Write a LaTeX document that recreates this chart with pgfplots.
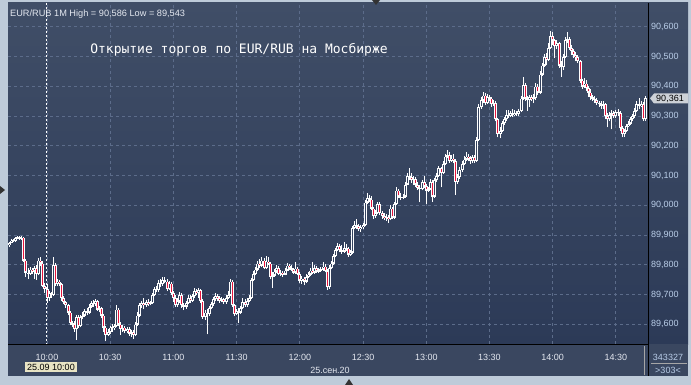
\documentclass[border=0pt]{standalone}
\usepackage{pgfplots}
\pgfplotsset{compat=1.18}
\usepackage{pgfplotstable}
\usepackage{fontspec}
\setmainfont{Liberation Sans}
\newfontfamily\monofont{DejaVu Sans Mono}
\definecolor{frame}{RGB}{190,203,217}
\definecolor{bgtop}{RGB}{64,78,103}
\definecolor{bgbot}{RGB}{44,58,87}
\definecolor{bpanel}{RGB}{58,71,96}
\definecolor{gridc}{RGB}{92,108,138}
\definecolor{ylab}{RGB}{185,205,232}
\definecolor{xlab}{RGB}{228,232,240}
\definecolor{candred}{RGB}{230,20,60}
\definecolor{hollow}{RGB}{52,66,94}
\definecolor{tagc}{RGB}{205,209,215}
\definecolor{datebox}{RGB}{232,228,196}

\pgfplotstableread{
m o h l c
-18 89.868 89.878 89.860 89.875
-17 89.875 89.886 89.872 89.882
-16 89.882 89.888 89.876 89.880
-15 89.880 89.894 89.878 89.890
-14 89.890 89.898 89.886 89.893
-13 89.893 89.897 89.884 89.888
-12 89.888 89.896 89.885 89.892
-11 89.892 89.895 89.810 89.815
-10 89.815 89.818 89.760 89.775
-9 89.775 89.790 89.752 89.770
-8 89.770 89.792 89.766 89.785
-7 89.785 89.790 89.770 89.778
-6 89.778 89.796 89.752 89.790
-5 89.790 89.800 89.750 89.770
-4 89.770 89.822 89.765 89.815
-3 89.815 89.825 89.795 89.805
-2 89.805 89.812 89.725 89.730
-1 89.730 89.738 89.705 89.720
0 89.720 89.735 89.672 89.690
1 89.690 89.712 89.680 89.705
2 89.705 89.710 89.690 89.700
3 89.700 89.826 89.695 89.800
4 89.800 89.805 89.728 89.735
5 89.735 89.752 89.728 89.745
6 89.745 89.750 89.728 89.735
7 89.735 89.740 89.680 89.690
8 89.690 89.695 89.668 89.675
9 89.675 89.680 89.655 89.665
10 89.665 89.670 89.630 89.640
11 89.640 89.645 89.598 89.605
12 89.605 89.612 89.590 89.600
13 89.600 89.610 89.575 89.585
14 89.585 89.630 89.548 89.625
15 89.625 89.630 89.588 89.595
16 89.595 89.632 89.590 89.625
17 89.625 89.640 89.618 89.630
18 89.630 89.650 89.625 89.645
19 89.645 89.655 89.632 89.640
20 89.640 89.668 89.636 89.660
21 89.660 89.680 89.655 89.672
22 89.672 89.683 89.660 89.668
23 89.668 89.685 89.662 89.678
24 89.678 89.682 89.645 89.650
25 89.650 89.662 89.640 89.655
26 89.655 89.660 89.620 89.630
27 89.630 89.635 89.575 89.590
28 89.590 89.595 89.543 89.565
29 89.565 89.585 89.560 89.575
30 89.575 89.595 89.568 89.590
31 89.590 89.600 89.575 89.588
32 89.588 89.602 89.580 89.595
33 89.595 89.665 89.590 89.650
34 89.650 89.655 89.595 89.600
35 89.600 89.608 89.565 89.585
36 89.585 89.598 89.575 89.590
37 89.590 89.595 89.570 89.578
38 89.578 89.592 89.570 89.585
39 89.585 89.590 89.562 89.570
40 89.570 89.582 89.558 89.575
41 89.575 89.580 89.552 89.565
42 89.565 89.608 89.560 89.600
43 89.600 89.640 89.595 89.630
44 89.630 89.672 89.625 89.665
45 89.665 89.680 89.655 89.672
46 89.672 89.690 89.650 89.665
47 89.665 89.682 89.660 89.675
48 89.675 89.684 89.662 89.668
49 89.668 89.680 89.664 89.672
50 89.672 89.705 89.668 89.700
51 89.700 89.725 89.695 89.720
52 89.720 89.728 89.708 89.715
53 89.715 89.748 89.710 89.740
54 89.740 89.752 89.725 89.735
55 89.735 89.758 89.730 89.750
56 89.750 89.760 89.738 89.745
57 89.745 89.752 89.712 89.720
58 89.720 89.745 89.715 89.738
59 89.738 89.742 89.698 89.705
60 89.705 89.712 89.675 89.690
61 89.690 89.698 89.658 89.665
62 89.665 89.688 89.660 89.680
63 89.680 89.708 89.672 89.700
64 89.700 89.705 89.655 89.665
65 89.665 89.672 89.648 89.660
66 89.660 89.680 89.652 89.672
67 89.672 89.698 89.668 89.690
68 89.690 89.700 89.672 89.680
69 89.680 89.702 89.676 89.695
70 89.695 89.722 89.690 89.712
71 89.712 89.720 89.698 89.705
72 89.705 89.722 89.690 89.715
73 89.715 89.720 89.672 89.680
74 89.680 89.686 89.618 89.625
75 89.625 89.648 89.615 89.640
76 89.640 89.650 89.566 89.635
77 89.635 89.662 89.628 89.655
78 89.655 89.675 89.650 89.668
79 89.668 89.692 89.662 89.685
80 89.685 89.705 89.680 89.695
81 89.695 89.702 89.680 89.688
82 89.688 89.695 89.672 89.680
83 89.680 89.692 89.675 89.685
84 89.685 89.690 89.668 89.675
85 89.675 89.698 89.670 89.690
86 89.690 89.712 89.685 89.700
87 89.700 89.752 89.695 89.745
88 89.745 89.750 89.660 89.665
89 89.665 89.670 89.628 89.635
90 89.635 89.652 89.630 89.645
91 89.645 89.655 89.605 89.640
92 89.640 89.662 89.635 89.655
93 89.655 89.690 89.650 89.675
94 89.675 89.685 89.660 89.665
95 89.665 89.690 89.660 89.680
96 89.680 89.698 89.675 89.690
97 89.690 89.755 89.685 89.750
98 89.750 89.778 89.745 89.770
99 89.770 89.792 89.765 89.785
100 89.785 89.812 89.780 89.805
101 89.805 89.818 89.790 89.798
102 89.798 89.825 89.792 89.815
103 89.815 89.822 89.785 89.790
104 89.790 89.830 89.786 89.812
105 89.812 89.825 89.798 89.805
106 89.805 89.810 89.752 89.760
107 89.760 89.775 89.722 89.765
108 89.765 89.785 89.760 89.778
109 89.778 89.798 89.772 89.790
110 89.790 89.795 89.765 89.770
111 89.770 89.782 89.762 89.775
112 89.775 89.780 89.760 89.768
113 89.768 89.790 89.765 89.782
114 89.782 89.805 89.778 89.798
115 89.798 89.802 89.782 89.790
116 89.790 89.798 89.778 89.785
117 89.785 89.790 89.770 89.775
118 89.775 89.810 89.770 89.788
119 89.788 89.792 89.765 89.770
120 89.770 89.775 89.740 89.748
121 89.748 89.762 89.735 89.755
122 89.755 89.760 89.732 89.745
123 89.745 89.768 89.740 89.760
124 89.760 89.775 89.755 89.768
125 89.768 89.790 89.762 89.782
126 89.782 89.808 89.770 89.775
127 89.775 89.798 89.770 89.790
128 89.790 89.795 89.772 89.778
129 89.778 89.790 89.772 89.782
130 89.782 89.792 89.776 89.785
131 89.785 89.810 89.780 89.795
132 89.795 89.802 89.775 89.780
133 89.780 89.785 89.715 89.725
134 89.725 89.798 89.720 89.790
135 89.790 89.812 89.785 89.805
136 89.805 89.838 89.800 89.830
137 89.830 89.858 89.825 89.850
138 89.850 89.872 89.845 89.865
139 89.865 89.870 89.842 89.850
140 89.850 89.868 89.838 89.845
141 89.845 89.878 89.840 89.858
142 89.858 89.870 89.848 89.855
143 89.855 89.860 89.828 89.835
144 89.835 89.850 89.830 89.842
145 89.842 89.932 89.838 89.925
146 89.925 89.948 89.920 89.935
147 89.935 89.955 89.922 89.930
148 89.930 89.938 89.915 89.920
149 89.920 89.935 89.912 89.928
150 89.928 89.942 89.922 89.935
151 89.935 90.018 89.930 90.010
152 90.010 90.040 90.005 90.025
153 90.025 90.035 90.010 90.020
154 90.020 90.030 89.985 89.990
155 89.990 89.995 89.955 89.965
156 89.965 89.985 89.958 89.975
157 89.975 90.012 89.970 90.005
158 90.005 90.010 89.968 89.975
159 89.975 89.980 89.955 89.965
160 89.965 89.975 89.950 89.958
161 89.958 89.970 89.948 89.962
162 89.962 89.968 89.942 89.955
163 89.955 90.000 89.950 89.990
164 89.990 89.995 89.955 89.960
165 89.960 90.012 89.955 90.005
166 90.005 90.060 90.000 90.050
167 90.050 90.055 90.025 90.030
168 90.030 90.040 90.018 90.025
169 90.025 90.038 90.020 90.030
170 90.030 90.078 90.025 90.070
171 90.070 90.110 90.068 90.100
172 90.100 90.125 90.085 90.095
173 90.095 90.108 90.075 90.085
174 90.085 90.098 90.070 90.090
175 90.090 90.095 90.062 90.070
176 90.070 90.078 90.050 90.060
177 90.060 90.070 90.010 90.055
178 90.055 90.085 90.050 90.078
179 90.078 90.098 90.058 90.065
180 90.065 90.072 90.005 90.050
181 90.050 90.062 90.045 90.055
182 90.055 90.090 90.050 90.080
183 90.080 90.085 90.012 90.030
184 90.030 90.092 90.025 90.085
185 90.085 90.110 90.080 90.100
186 90.100 90.132 90.095 90.125
187 90.125 90.130 90.060 90.110
188 90.110 90.148 90.105 90.140
189 90.140 90.172 90.135 90.165
190 90.165 90.185 90.158 90.170
191 90.170 90.178 90.142 90.150
192 90.150 90.168 90.145 90.158
193 90.158 90.172 90.142 90.150
194 90.150 90.155 90.035 90.080
195 90.080 90.105 90.072 90.095
196 90.095 90.128 90.090 90.120
197 90.120 90.148 90.112 90.140
198 90.140 90.165 90.135 90.155
199 90.155 90.180 90.150 90.165
200 90.165 90.172 90.148 90.158
201 90.158 90.165 90.140 90.150
202 90.150 90.170 90.142 90.162
203 90.162 90.168 90.142 90.150
204 90.150 90.228 90.145 90.220
205 90.220 90.340 90.215 90.330
206 90.330 90.365 90.325 90.355
207 90.355 90.380 90.345 90.370
208 90.370 90.378 90.338 90.345
209 90.345 90.375 90.340 90.365
210 90.365 90.372 90.350 90.360
211 90.360 90.365 90.332 90.340
212 90.340 90.355 90.335 90.345
213 90.345 90.350 90.282 90.290
214 90.290 90.295 90.228 90.240
215 90.240 90.262 90.225 90.250
216 90.250 90.285 90.245 90.278
217 90.278 90.298 90.270 90.290
218 90.290 90.320 90.285 90.305
219 90.305 90.322 90.295 90.300
220 90.300 90.318 90.298 90.310
221 90.310 90.325 90.298 90.305
222 90.305 90.320 90.300 90.312
223 90.312 90.318 90.300 90.308
224 90.308 90.325 90.300 90.318
225 90.318 90.368 90.312 90.360
226 90.360 90.432 90.355 90.405
227 90.405 90.410 90.352 90.360
228 90.360 90.368 90.318 90.355
229 90.355 90.372 90.330 90.365
230 90.365 90.370 90.350 90.358
231 90.358 90.375 90.345 90.362
232 90.362 90.410 90.355 90.400
233 90.400 90.408 90.372 90.380
234 90.380 90.450 90.375 90.440
235 90.440 90.478 90.435 90.470
236 90.470 90.508 90.465 90.500
237 90.500 90.512 90.470 90.490
238 90.490 90.545 90.485 90.530
239 90.530 90.586 90.525 90.570
240 90.570 90.582 90.540 90.555
241 90.555 90.560 90.495 90.535
242 90.535 90.555 90.525 90.545
243 90.545 90.550 90.462 90.470
244 90.470 90.485 90.432 90.465
245 90.465 90.508 90.455 90.500
246 90.500 90.565 90.495 90.555
247 90.555 90.583 90.545 90.560
248 90.560 90.565 90.522 90.530
249 90.530 90.538 90.505 90.520
250 90.520 90.525 90.495 90.505
251 90.505 90.515 90.485 90.498
252 90.498 90.505 90.478 90.485
253 90.485 90.490 90.412 90.420
254 90.420 90.425 90.392 90.400
255 90.400 90.428 90.395 90.410
256 90.410 90.420 90.385 90.395
257 90.395 90.400 90.365 90.380
258 90.380 90.390 90.355 90.365
259 90.365 90.372 90.350 90.360
260 90.360 90.368 90.345 90.355
261 90.355 90.362 90.338 90.345
262 90.345 90.352 90.330 90.340
263 90.340 90.350 90.325 90.335
264 90.335 90.350 90.325 90.340
265 90.340 90.345 90.290 90.300
266 90.300 90.310 90.262 90.290
267 90.290 90.315 90.283 90.305
268 90.305 90.320 90.255 90.310
269 90.310 90.318 90.292 90.300
270 90.300 90.322 90.295 90.315
271 90.315 90.325 90.300 90.310
272 90.310 90.318 90.250 90.260
273 90.260 90.265 90.228 90.240
274 90.240 90.258 90.230 90.250
275 90.250 90.275 90.245 90.268
276 90.268 90.285 90.262 90.275
277 90.275 90.298 90.270 90.290
278 90.290 90.308 90.285 90.300
279 90.300 90.328 90.295 90.318
280 90.318 90.352 90.312 90.340
281 90.340 90.360 90.325 90.335
282 90.335 90.350 90.330 90.342
283 90.342 90.348 90.285 90.290
284 90.290 90.368 90.285 90.361
}\candles

\begin{document}
\begin{tikzpicture}
\begin{scope}[x=1pt,y=-1pt]
\fill[frame] (0,0) rectangle (691,385);
\shade[top color=bgtop, bottom color=bgbot] (8,3) rectangle (688,344);
\fill[bpanel] (8,344) rectangle (688,376);
\end{scope}
\begin{axis}[
  at={(8pt,-344pt)}, anchor=south west,
  scale only axis, width=640pt, height=341pt,
  xmin=-18.51, xmax=285.24, ymin=89.534, ymax=90.680,
  axis line style={draw=none},
  major tick length=0pt,
  xtick={0,30,60,90,120,150,180,210,240,270},
  xticklabels={10:00,10:30,11:00,11:30,12:00,12:30,13:00,13:30,14:00,14:30},
  ytick={89.6,89.7,89.8,89.9,90.0,90.1,90.2,90.3,90.4,90.5,90.6},
  yticklabel pos=right,
  scaled y ticks=false,
  yticklabel style={font=\fontsize{9}{10}\selectfont, text=ylab, anchor=west, inner sep=0pt, xshift=3pt,
    /pgf/number format/fixed,
    /pgf/number format/fixed zerofill,
    /pgf/number format/precision=3,
    /pgf/number format/use comma,
    /pgf/number format/1000 sep={},
    /pgf/number format/assume math mode=true},
  xticklabel style={font=\fontsize{9}{10}\selectfont, text=xlab, anchor=north, inner sep=0pt, yshift=-10.5pt},
  grid=major,
  major grid style={gridc, dash pattern=on 3pt off 3pt, line width=0.8pt},
]
% wicks: low to high
\addplot[draw=white, line width=1pt, line cap=butt, -,
  quiver={u=0, v=\thisrow{h}-\thisrow{l}}]
  table[x=m, y=l] {\candles};
% bodies: open/close range
\addplot[draw=white, line width=3pt, line cap=butt, -,
  quiver={u=0, v={max(abs(\thisrow{o}-\thisrow{c}),0.0035)}}]
  table[x=m, y expr={min(\thisrow{o},\thisrow{c})-0.001}] {\candles};
% red interiors (falling candles)
\addplot[draw=candred, line width=1pt, line cap=butt, -,
  quiver={u=0, v={max(\thisrow{o}-\thisrow{c}-0.0068,0)}}]
  table[x=m, y expr={\thisrow{c}+0.0034}] {\candles};
% hollow interiors (rising candles)
\addplot[draw=hollow, line width=1pt, line cap=butt, -,
  quiver={u=0, v={max(\thisrow{c}-\thisrow{o}-0.0068,0)}}]
  table[x=m, y expr={\thisrow{o}+0.0034}] {\candles};
\end{axis}
\begin{scope}[x=1pt,y=-1pt]
\draw[white, dash pattern=on 2pt off 2pt, line width=0.8pt] (46.5,3) -- (46.5,344);
\draw[black, line width=1pt] (648,3) -- (648,376);
\draw[black, line width=0.8pt] (8,344) -- (648,344);
\draw[gray!70, line width=0.6pt] (644,346) -- (644,375);
\draw[gray!70, line width=0.6pt] (651,363) -- (687,363);
\node[anchor=west, inner sep=0pt, text=xlab, font=\fontsize{9.2}{10}\selectfont] at (10,14) {EUR/RUB 1M High = 90,586 Low = 89,543};
\node[text=white, inner sep=0pt, font=\monofont\fontsize{13}{15}\selectfont] at (239,50) {Открытие торгов по EUR/RUB на Мосбирже};
\fill[tagc] (650,98.3) -- (654,93.5) -- (688,93.5) -- (688,103.5) -- (654,103.5) -- cycle;
\node[text=black, inner sep=0pt, font=\fontsize{9}{10}\selectfont] at (670,98.5) {90,361};
\node[fill=datebox, text=black, inner sep=2pt, font=\fontsize{9}{10}\selectfont] at (51,367) {25.09 10:00};
\node[text=xlab, inner sep=0pt, font=\fontsize{9}{10}\selectfont] at (330,370) {25.сен.20};
\node[text=ylab, inner sep=0pt, font=\fontsize{9}{10}\selectfont] at (668,357) {343327};
\node[text=ylab, inner sep=0pt, font=\fontsize{9}{10}\selectfont] at (668,370) {>303<};
\fill[black!80] (372,0) -- (380,0) -- (376,5) -- cycle;
\fill[black!80] (0,186) -- (0,194) -- (5,190) -- cycle;
\fill[black!80] (345,385) -- (353,385) -- (349,379) -- cycle;
\end{scope}
\end{tikzpicture}
\end{document}
